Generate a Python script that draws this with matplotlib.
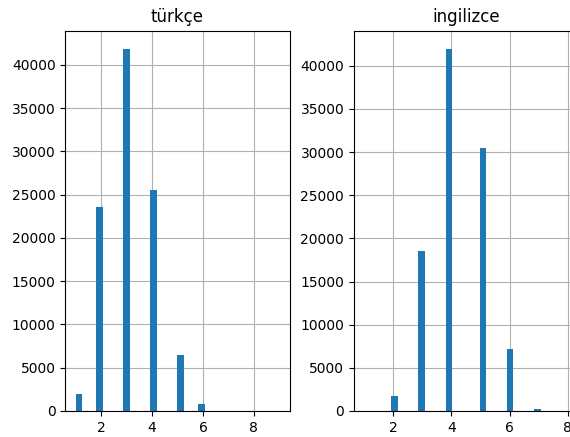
import matplotlib
matplotlib.use("Agg")
import matplotlib.pyplot as plt
import numpy as np

# word counts per sentence and how many sentences have that count
tr_lengths = [1, 2, 3, 4, 5, 6, 7, 8, 9]
tr_counts = [1920, 23550, 41840, 25540, 6440, 770, 15, 3, 1]

en_lengths = [1, 2, 3, 4, 5, 6, 7, 8]
en_counts = [3, 1730, 18500, 41960, 30490, 7150, 230, 5]

titles = ["türkçe", "ingilizce"]

fig = plt.figure(figsize=(5.7, 4.37), dpi=100)
ax1 = fig.add_axes([0.1149, 0.0595, 0.393, 0.870])
ax2 = fig.add_axes([0.621, 0.0595, 0.393, 0.870])

for ax, lengths, counts, title in [(ax1, tr_lengths, tr_counts, titles[0]),
                                   (ax2, en_lengths, en_counts, titles[1])]:
    ax.hist(lengths, bins=30, weights=counts, color="C0")
    ax.set_title(title)
    ax.grid(True)
    ax.set_axisbelow(True)

plt.savefig("out.png", dpi=100)
plt.close()
